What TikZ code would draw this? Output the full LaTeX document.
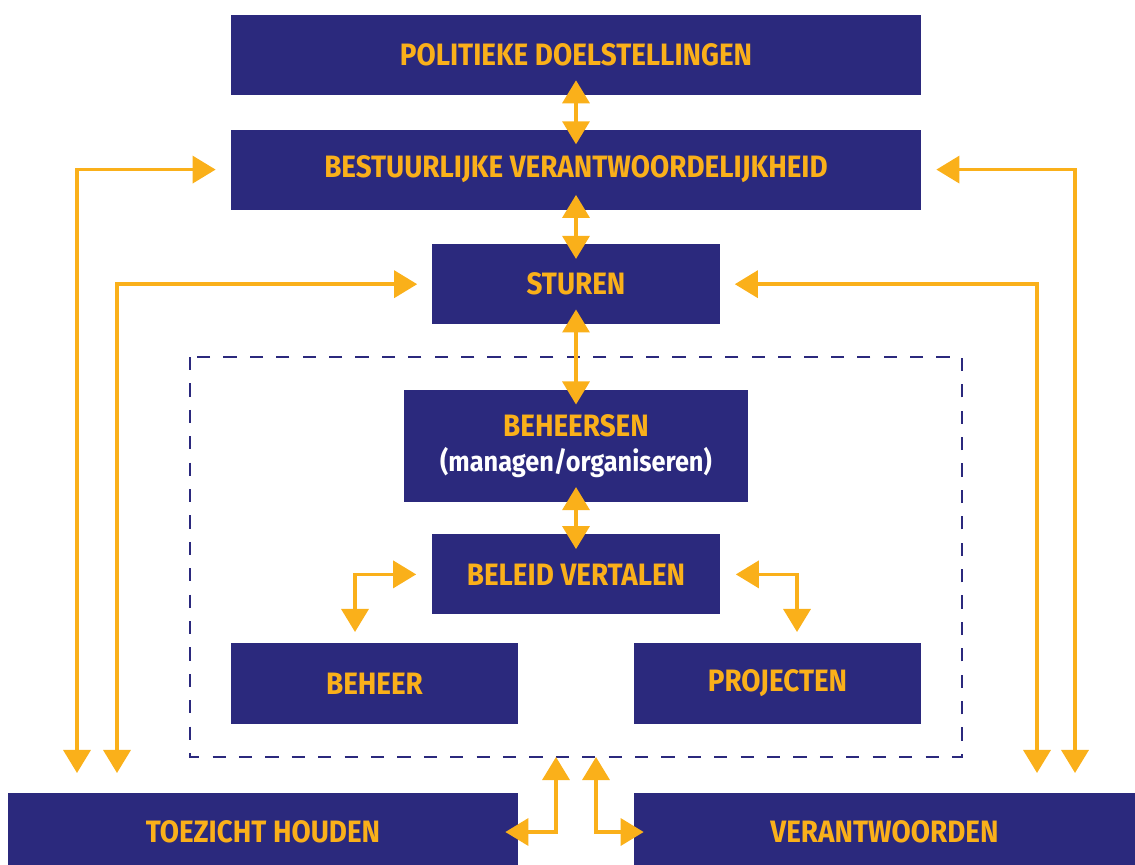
\documentclass[tikz,border=0pt]{standalone}
\usepackage{fontspec}
\setmainfont{Fira Sans}[FakeStretch=0.9]
\usetikzlibrary{arrows.meta,positioning}
\definecolor{navy}{RGB}{43,41,125}
\definecolor{gold}{RGB}{250,176,26}

\begin{document}
\begin{tikzpicture}[x=0.025cm,y=-0.025cm,>={Triangle[width=0.675cm,length=0.575cm]},
  box/.style={fill=navy,text=gold,font=\bfseries\fontsize{22}{25}\selectfont,minimum height=2cm,inner sep=0pt,align=center},
  link/.style={<->,draw=gold,line width=2.4pt},
  frame/.style={draw=navy,line width=2pt,dash pattern=on 0.33cm off 0.33cm}]

  \useasboundingbox (0,0) rectangle (1135,865);

  \node[box,minimum width=17.25cm] (pol) at (576,55) {POLITIEKE DOELSTELLINGEN};
  \node[box,minimum width=17.25cm,below=0.85cm of pol] (best) {BESTUURLIJKE VERANTWOORDELIJKHEID};
  \node[box,minimum width=7.175cm,below=0.85cm of best] (stur) {STUREN};
  \node[box,minimum width=8.575cm,minimum height=2.8cm,below=1.625cm of stur] (behs) {BEHEERSEN\\\textcolor{white}{\fontsize{20}{25}\selectfont(managen/organiseren)}};
  \node[box,minimum width=7.175cm,below=0.8cm of behs] (bel) {BELEID VERTALEN};
  \node[box,minimum width=7.175cm] (bhr) at (374.5,683.5) {BEHEER};
  \node[box,minimum width=7.175cm] (proj) at (777.5,683.5) {PROJECTEN};
  \node[box,minimum width=12.75cm,minimum height=1.95cm] (toez) at (263,832) {TOEZICHT HOUDEN};
  \node[box,minimum width=12.525cm,minimum height=1.95cm] (verw) at (884.5,832) {VERANTWOORDEN};

  % dashed frame round the inner part
  \draw[frame] (190,357) rectangle (962,757);

  \coordinate (lo) at (77,793);
  \coordinate (li) at (117,793);
  \coordinate (ri) at (1037,793);
  \coordinate (ro) at (1075,793);
  \coordinate (bl) at (355,644);
  \coordinate (br) at (797,644);
  \coordinate (fl) at (556,757);
  \coordinate (fr) at (596,757);

  \draw[link,shorten <=-0.375cm,shorten >=-0.375cm] (pol) -- (best);
  \draw[link,shorten <=-0.375cm,shorten >=-0.375cm] (best) -- (stur);
  \draw[link,shorten <=-0.375cm,shorten >=-0.375cm] (stur) -- (behs);
  \draw[link,shorten <=-0.375cm,shorten >=-0.375cm] (behs) -- (bel);

  \draw[link,shorten <=0.375cm,shorten >=0.5cm] (best.west) -| (lo);
  \draw[link,shorten <=0.375cm,shorten >=0.5cm] (stur.west) -| (li);
  \draw[link,shorten <=0.375cm,shorten >=0.5cm] (best.east) -| (ro);
  \draw[link,shorten <=0.375cm,shorten >=0.5cm] (stur.east) -| (ri);

  \draw[link,shorten <=0.4cm,shorten >=0.3cm] (bel.west) -| (bl);
  \draw[link,shorten <=0.4cm,shorten >=0.3cm] (bel.east) -| (br);

  \draw[link,shorten <=-0.325cm] (toez.east) -| (fl);
  \draw[link,shorten <=-0.25cm] (verw.west) -| (fr);
\end{tikzpicture}
\end{document}
